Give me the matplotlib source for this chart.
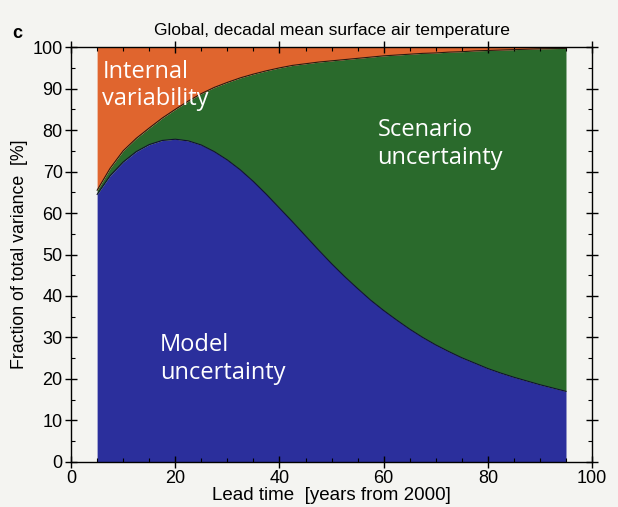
import numpy as np
import matplotlib.pyplot as plt
from matplotlib.ticker import MultipleLocator

# Fraction of total variance in decadal global mean surface air temperature
# split into its three sources, as a function of lead time.
lead_time = [5, 7.5, 10, 12.5, 15, 17.5, 20, 22.5, 25, 27.5, 30, 32.5, 35,
             37.5, 40, 42.5, 45, 47.5, 50, 52.5, 55, 57.5, 60, 62.5, 65,
             67.5, 70, 72.5, 75, 77.5, 80, 82.5, 85, 87.5, 90, 92.5, 95]
model = [64.5, 69.0, 72.3, 74.8, 76.5, 77.5, 77.8, 77.4, 76.4, 74.8, 72.8,
         70.4, 67.6, 64.5, 61.2, 57.9, 54.5, 51.1, 47.8, 44.7, 41.8, 39.0,
         36.5, 34.2, 32.0, 30.0, 28.2, 26.6, 25.1, 23.8, 22.5, 21.4, 20.4,
         19.5, 18.6, 17.8, 17.0]
scenario = [1.0, 1.8, 2.7, 3.2, 4.0, 5.4, 7.2, 9.6, 12.4, 15.5, 18.7, 22.2,
            25.9, 29.8, 33.8, 37.7, 41.5, 45.3, 48.9, 52.3, 55.5, 58.6, 61.4,
            63.9, 66.3, 68.5, 70.4, 72.2, 73.8, 75.3, 76.7, 77.9, 79.0, 80.0,
            81.0, 81.85, 82.7]
internal = [34.5, 29.2, 25.0, 22.0, 19.5, 17.1, 15.0, 13.0, 11.2, 9.7, 8.5,
            7.4, 6.5, 5.7, 5.0, 4.4, 4.0, 3.6, 3.3, 3.0, 2.7, 2.4, 2.1, 1.9,
            1.7, 1.5, 1.4, 1.2, 1.1, 0.9, 0.8, 0.7, 0.6, 0.5, 0.4, 0.35, 0.3]

c_model = '#2b2f9c'
c_scen = '#2a6a2c'
c_int = '#e0652e'
bg = '#f4f4f1'

plt.rcParams['font.family'] = ['Liberation Sans', 'DejaVu Sans']

fig = plt.figure(figsize=(6.18, 5.07), dpi=100, facecolor=bg)
ax = fig.add_axes([0.115, 0.089, 0.843, 0.818])
ax.set_facecolor(bg)

x = np.array(lead_time)
m = np.array(model)
s = np.array(scenario)
i = np.array(internal)

ax.fill_between(x, 0, m, color=c_model, lw=0)
ax.fill_between(x, m, m + s, color=c_scen, lw=0)
ax.fill_between(x, m + s, m + s + i, color=c_int, lw=0)
ax.plot(x, m, color='#101030', lw=0.8)
ax.plot(x, m + s, color='#2a1a10', lw=0.8)

ax.set_xlim(0, 100)
ax.set_ylim(0, 100)
ax.xaxis.set_major_locator(MultipleLocator(20))
ax.xaxis.set_minor_locator(MultipleLocator(5))
ax.yaxis.set_major_locator(MultipleLocator(10))
ax.yaxis.set_minor_locator(MultipleLocator(5))
ax.tick_params(which='major', direction='inout', length=8, width=1,
               labelsize=13, top=True, right=True, pad=2)
ax.tick_params(which='minor', direction='in', length=3, width=0.8,
               top=True, right=True)
for sp in ax.spines.values():
    sp.set_linewidth(1)

ax.set_xlabel('Lead time  [years from 2000]', fontsize=13.5, labelpad=0)
ax.set_ylabel('Fraction of total variance  [%]', fontsize=12.8, labelpad=3)
ax.set_title('Global, decadal mean surface air temperature', fontsize=12.6,
             pad=9)
fig.text(0.02, 0.925, 'c', fontsize=13, fontweight='bold')

lab = dict(color='white', fontsize=17, family=['Open Sans', 'DejaVu Sans'],
           va='top', ha='left', linespacing=1.2)
ax.text(6, 97, 'Internal\nvariability', **lab)
ax.text(58.8, 82.8, 'Scenario\nuncertainty', **lab)
ax.text(17, 31, 'Model\nuncertainty', **lab)

fig.savefig('out.png', dpi=100, facecolor=bg)
